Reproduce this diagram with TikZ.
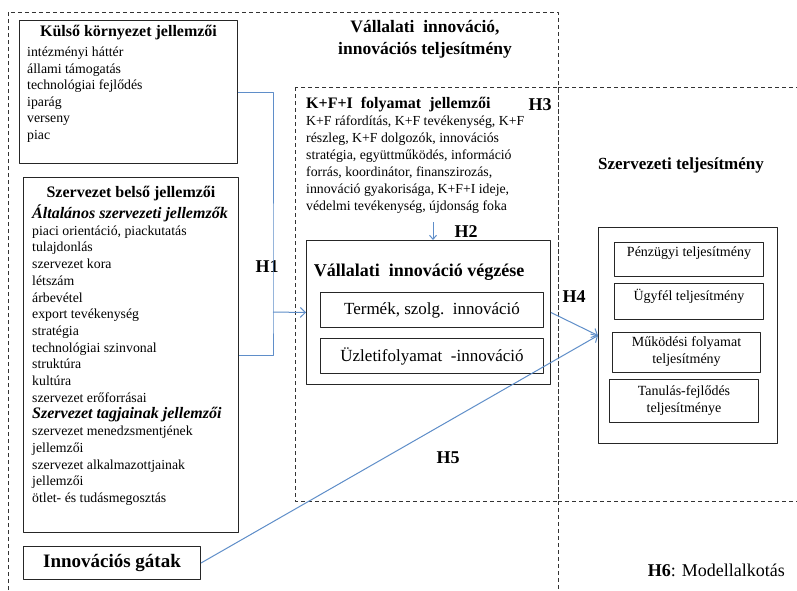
\documentclass[tikz,border=0pt]{standalone}
\usepackage{fontspec}
\setmainfont{Liberation Serif}
\usetikzlibrary{arrows.meta,positioning}
\definecolor{linkblue}{RGB}{95,142,201}
\begin{document}
\begin{tikzpicture}[
  x=1pt, y=-1pt, line join=round,
  frame/.style={draw=black!85, line width=1pt, inner sep=0pt, anchor=north west},
  dashframe/.style={draw=black!80, line width=.9pt, dash pattern=on 4pt off 3pt},
  link/.style={draw=linkblue, line width=1pt},
  tip/.style={-{Straight Barb[length=5pt,width=10pt]}},
  head/.style={font=\fontsize{16}{19}\selectfont\bfseries, inner sep=0pt},
  item/.style={font=\fontsize{13.8}{16}\selectfont, inner sep=0pt, anchor=base west},
  boxtext/.style={font=\fontsize{14}{17}\selectfont, inner sep=0pt, align=center},
  hyp/.style={font=\fontsize{18}{20}\selectfont\bfseries, inner sep=0pt}]

\fill[white] (0,0) rectangle (797,590);
\useasboundingbox (0,0) rectangle (797,590);

% dashed frames
\draw[dashframe] (8,590) -- (8,12) -- (558,12) -- (558,590);
\draw[dashframe] (295,87) rectangle (558,501);
\draw[dashframe] (558,87) -- (797,87) (558,501) -- (797,501);

% boxes
\node[frame, minimum width=218, minimum height=143] (kulso) at (19,20) {};
\node[frame, minimum width=215, minimum height=355] (belso) at (23,177) {};
\node[frame, minimum width=177, minimum height=33,
  font=\fontsize{19}{22}\selectfont\bfseries] (gatak) at (23,546) {Innovációs gátak};
\node[frame, minimum width=244, minimum height=144] (vegzes) at (306,240) {};
\node[frame, minimum width=223, minimum height=35,
  font=\fontsize{17}{20}\selectfont] (termek) at (320,292) {Termék, szolg.\ \ innováció};
\node[frame, minimum width=223, minimum height=35,
  font=\fontsize{17}{20}\selectfont] (uzleti) at (320,338) {Üzletifolyamat\ \ -innováció};
\node[frame, minimum width=179, minimum height=216] (szt) at (598,227) {};
\node[frame, minimum width=149, minimum height=34] (penz) at (614,242) {};
\node[frame, minimum width=149, minimum height=36] (ugyfel) at (614,283) {};
\node[frame, minimum width=148, minimum height=40] (mukodesi) at (612,332) {};
\node[frame, minimum width=149, minimum height=43] (tanulas) at (609,379) {};

% titles
\node[font=\fontsize{17.5}{22}\selectfont\bfseries, align=center, inner sep=0pt]
  (title) at (425,39) {Vállalati\ \ innováció,\\innovációs teljesítmény};
\node[head, font=\fontsize{17}{20}\selectfont\bfseries] (szth) at (681,165) {Szervezeti teljesítmény};

% external characteristics
\node[head] (kulsoh) at ([yshift=-13]kulso.north) {Külső környezet jellemzői};
\foreach \t [count=\i from 0] in {intézményi háttér, állami támogatás,
    technológiai fejlődés, iparág, verseny, piac}
  \node[item] (kulso\i) at (27, 56.5+16.6*\i) {\t};

% internal characteristics
\node[head] (belsoh) at ([yshift=-17]belso.north) {Szervezet belső jellemzői};
\foreach \t [count=\i from 0] in {
    {\bfseries\itshape\fontsize{16}{16}\selectfont Általános szervezeti jellemzők},
    {piaci orientáció, piackutatás}, tulajdonlás, szervezet kora, létszám,
    árbevétel, export tevékenység, stratégia, technológiai szinvonal,
    struktúra, kultúra, szervezet erőforrásai,
    {\bfseries\itshape\fontsize{16}{16}\selectfont Szervezet tagjainak jellemzői},
    szervezet menedzsmentjének, jellemzői, szervezet alkalmazottjainak,
    jellemzői, ötlet- és tudásmegosztás}
  \node[item] (belso\i) at (32, 218.5+16.7*\i) {\t};

% K+F+I process
\node[head, anchor=base west] (kfih) at (306,108.5) {K+F+I\ \ folyamat\ \ jellemzői};
\foreach \t [count=\i from 0] in {{K+F ráfordítás, K+F tevékenység, K+F},
    {részleg, K+F dolgozók, innovációs}, {stratégia, együttműködés, információ},
    {forrás, koordinátor, finanszirozás,}, {innováció gyakorisága, K+F+I ideje,},
    {védelmi tevékenység, újdonság foka}}
  \node[item] (kfi\i) at (306, 125+17*\i) {\t};

\node[font=\fontsize{18}{20}\selectfont\bfseries, inner sep=0pt]
  (vegzesh) at (419,272) {Vállalati\ \ innováció végzése};

% performance boxes
\node[boxtext] (penzt) at ([yshift=-11]penz.north) {Pénzügyi teljesítmény};
\node[boxtext] (ugyfelt) at ([yshift=-13]ugyfel.north) {Ügyfél teljesítmény};
\node[boxtext] (mukodesit) at ([yshift=-19.5]mukodesi.north) {Működési folyamat\\teljesítmény};
\node[boxtext] (tanulast) at ([yshift=-22]tanulas.north) {Tanulás-fejlődés\\teljesítménye};

% hypotheses
\node[hyp] (h1) at (267,267) {H1};
\node[hyp] (h2) at (466,232) {H2};
\node[hyp] (h3) at (540,105) {H3};
\node[hyp] (h4) at (574,297) {H4};
\node[hyp] (h5) at (448,458) {H5};
\node[font=\fontsize{18}{20}\selectfont, inner sep=0pt, anchor=base east]
  (h6) at (785,576) {\textbf{H6}: Modellalkotás};

% connectors
\coordinate (bus) at (273,312);
\coordinate (h2top) at (433,222);
\draw[link] (kulso.east) -| (bus) |- (belso.east);
\draw[link, tip] (bus) -- (vegzes.west);
\draw[link, -{Straight Barb[length=4pt,width=7pt]}] (h2top) -- (h2top |- vegzes.north);
\draw[link, tip] (vegzes.east) -- (szt.west);
\draw[link, tip] (gatak.east) -- (szt.west);
\end{tikzpicture}
\end{document}
